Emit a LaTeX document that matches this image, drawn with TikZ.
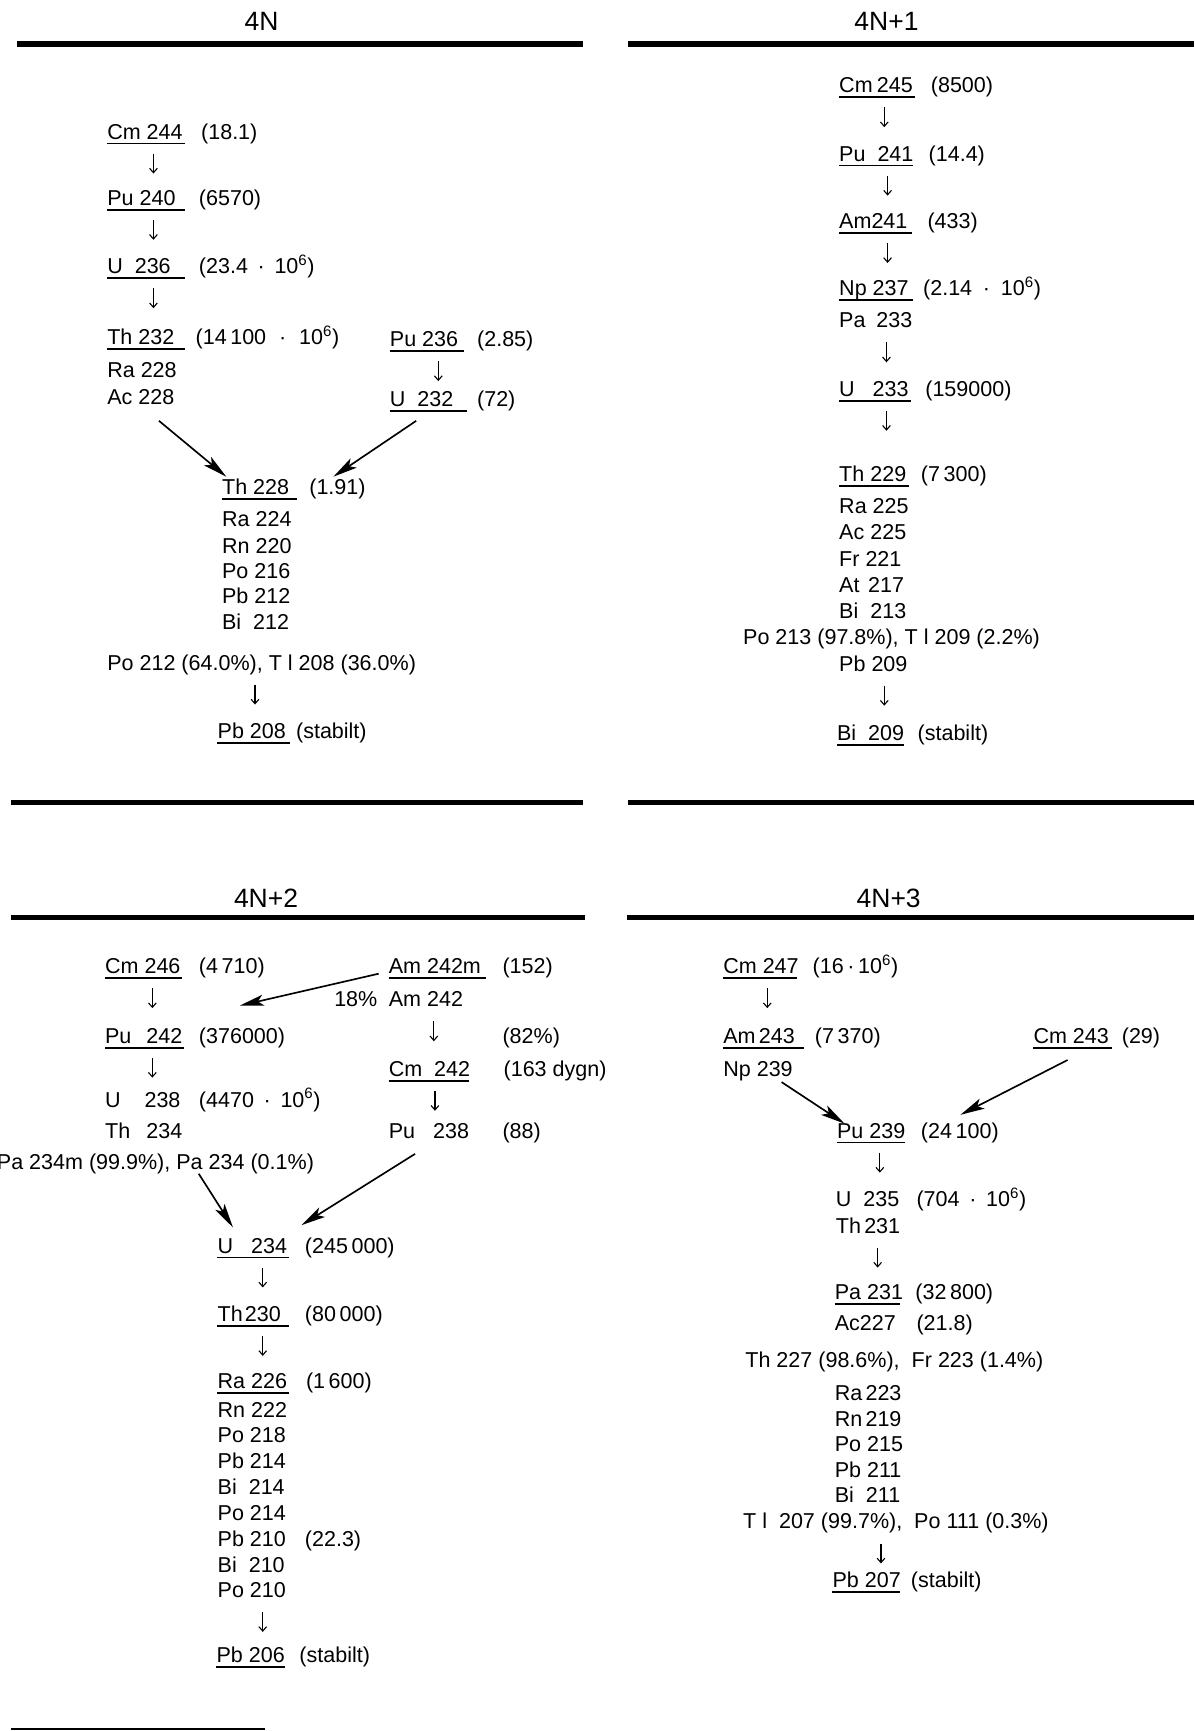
\documentclass[tikz,border=0pt]{standalone}
\usepackage{fontspec}
\setmainfont{Liberation Sans}
\usetikzlibrary{arrows.meta}
\newcommand\fnt{\fontsize{19.5}{23}\selectfont}
\newcommand\tfnt{\fontsize{24}{28}\selectfont}
\newcommand\sx[1]{\textsuperscript{#1}}
\newcommand\tx[4]{\node[txt] (#1) at (#2,{-(#3+7)}) {#4};}
\newcommand\uln[2]{\draw[ulst] ([yshift=-4pt]#1.base west) -- ++(#2,0);}
\newcommand\dar[2]{\draw[darr] ([shift={(#2,-9)}]#1.south west) -- ++(0,-18);}
\begin{document}
\begin{tikzpicture}[x=1pt,y=1pt,
  txt/.style={anchor=base west,inner sep=0pt,font=\fnt,text height=14pt,text depth=4pt},
  ttl/.style={anchor=base,inner sep=0pt,font=\tfnt},
  bar/.style={line width=5pt},
  ulst/.style={line width=1.6pt},
  darr/.style={line width=1pt,-{Straight Barb[length=4pt,width=7pt]}},
  bigarr/.style={line width=1.5pt,-{Stealth[length=22pt,width=10pt,inset=5pt]}}]
\fill[white] (0,0) rectangle (1082,-1568);
\useasboundingbox (0,0) rectangle (1082,-1568);

% ================= 4N =================
\node[ttl] (t4n) at (237,-28) {4N};
\draw[bar] (15,-40) -- (528,-40);
\tx{cm244}{97}{119}{Cm 244}\uln{cm244}{71}\tx{cm244h}{182}{119}{(18.1)}
\tx{pu240}{97}{179}{Pu 240}\uln{pu240}{71}\tx{pu240h}{180}{179}{(6570)}
\tx{u236}{97}{241}{U~~236}\uln{u236}{71}\tx{u236h}{180}{241}{(23.4\hspace{.45em}·\hspace{.45em}10\sx{6})}
\tx{th232}{97}{305}{Th 232}\uln{th232}{71}\tx{th232h}{177}{305}{(14\,100\hspace{.6em}·\hspace{.6em}10\sx{6})}
\tx{ra228}{97}{335}{Ra 228}
\tx{ac228}{97}{359}{Ac 228}
\tx{pu236}{353}{307}{Pu 236}\uln{pu236}{67}\tx{pu236h}{432}{307}{(2.85)}
\tx{u232}{353}{361}{U~~232}\uln{u232}{70}\tx{u232h}{432}{361}{(72)}
\tx{th228}{201}{441}{Th 228}\uln{th228}{68}\tx{th228h}{280}{441}{(1.91)}
\tx{ra224}{201}{470}{Ra 224}
\tx{rn220}{201}{494}{Rn 220}
\tx{po216}{201}{517}{Po 216}
\tx{pb212}{201}{540}{Pb 212}
\tx{bi212}{201}{563}{Bi~~212}
\tx{po212}{97}{600}{Po 212 (64.0\%), T l 208 (36.0\%)}
\tx{pb208}{197}{662}{Pb 208}\uln{pb208}{66}\tx{pb208h}{268}{662}{(stabilt)}
\dar{cm244}{42}\dar{pu240}{42}\dar{u236}{42}\dar{pu236}{44}\dar{po212}{134}
\draw[bigarr] ([shift={(47,-11)}]ac228.south west) -- ([shift={(4,2)}]th228.north west);
\draw[bigarr] ([shift={(24,-9)}]u232.south west) -- ([shift={(101,2)}]th228.north west);
\draw[bar] (10,-727) -- (528,-727);

% ================= 4N+1 =================
\node[ttl] (t4n1) at (803,-28) {4N+1};
\draw[bar] (569,-40) -- (1082,-40);
\tx{cm245}{760}{77}{Cm\hspace{.2em}245}\uln{cm245}{69}\tx{cm245h}{843}{77}{(8500)}
\tx{pu241}{760}{139}{Pu~~241}\uln{pu241}{67}\tx{pu241h}{841}{139}{(14.4)}
\tx{am241}{760}{200}{Am241}\uln{am241}{66}\tx{am241h}{840}{200}{(433)}
\tx{np237}{760}{261}{Np 237}\uln{np237}{67}\tx{np237h}{836}{261}{(2.14\hspace{.5em}·\hspace{.5em}10\sx{6})}
\tx{pa233}{760}{290}{Pa\hspace{.5em}233}
\tx{u233}{760}{352}{U~~~233}\uln{u233}{65}\tx{u233h}{838}{352}{(159000)}
\tx{th229}{760}{429}{Th 229}\uln{th229}{63}\tx{th229h}{834}{429}{(7\,300)}
\tx{ra225}{760}{458}{Ra 225}
\tx{ac225}{760}{482}{Ac 225}
\tx{fr221}{760}{506}{Fr~221}
\tx{at217}{760}{530}{At\hspace{.4em}217}
\tx{bi213}{760}{553}{Bi~~213}
\tx{po213}{673}{577}{Po 213 (97.8\%), T l 209 (2.2\%)}
\tx{pb209}{760}{601}{Pb 209}
\tx{bi209}{758}{664}{Bi~~209}\uln{bi209}{61}\tx{bi209h}{831}{664}{(stabilt)}
\dar{cm245}{41}\dar{pu241}{44}\dar{am241}{44}\dar{pa233}{43}\dar{u233}{43}\dar{pb209}{41}
\draw[bar] (569,-727) -- (1082,-727);

% ================= 4N+2 =================
\node[ttl] (t4n2) at (241,-822) {4N+2};
\draw[bar] (10,-831) -- (530,-831);
\tx{cm246}{95}{875}{Cm 246}\uln{cm246}{70}\tx{cm246h}{180}{875}{(4\,710)}
\tx{am242m}{352}{875}{Am 242m}\uln{am242m}{88}\tx{am242mh}{455}{875}{(152)}
\node[txt,anchor=base east] (p18) at (342,-912) {18\%};
\tx{am242}{352}{905}{Am 242}
\tx{p82}{455}{938}{(82\%)}
\tx{pu242}{95}{938}{Pu\hspace{.7em}242}\uln{pu242}{72}\tx{pu242h}{180}{938}{(376000)}
\tx{cm242}{352}{968}{Cm~~242}\uln{cm242}{73}\tx{cm242h}{456}{968}{(163 dygn)}
\tx{u238}{95}{996}{U~~~~238}\tx{u238h}{180}{996}{(4470\hspace{.45em}·\hspace{.45em}10\sx{6})}
\tx{th234}{95}{1024}{Th\hspace{.75em}234}
\tx{pu238}{352}{1024}{Pu~~~238}\tx{pu238h}{455}{1024}{(88)}
\tx{pa234}{-3}{1052}{Pa 234m (99.9\%), Pa 234 (0.1\%)}
\tx{u234}{197}{1128}{U~~~234}\uln{u234}{65}\tx{u234h}{276}{1128}{(245\,000)}
\tx{th230}{197}{1190}{Th\hspace{.1em}230}\uln{th230}{65}\tx{th230h}{276}{1190}{(80\,000)}
\tx{ra226}{197}{1251}{Ra 226}\uln{ra226}{65}\tx{ra226h}{277}{1251}{(1\,600)}
\tx{rn222}{197}{1277}{Rn 222}
\tx{po218}{197}{1300}{Po 218}
\tx{pb214}{197}{1323}{Pb 214}
\tx{bi214}{197}{1347}{Bi~~214}
\tx{po214}{197}{1370}{Po 214}
\tx{pb210}{197}{1394}{Pb 210}\tx{pb210h}{276}{1394}{(22.3)}
\tx{bi210}{197}{1417}{Bi~~210}
\tx{po210}{197}{1440}{Po 210}
\tx{pb206}{196}{1499}{Pb 206}\uln{pb206}{62}\tx{pb206h}{271}{1499}{(stabilt)}
\coordinate (amtip) at (217,-911);
\draw[bigarr] ([xshift=-9pt]am242m.base west) -- (amtip);
\dar{cm246}{43}\dar{am242}{41}\dar{pu242}{43}\dar{cm242}{42}\dar{u234}{41}\dar{th230}{41}\dar{po210}{41}
\draw[bigarr] ([shift={(183,0)}]pa234.south west) -- ([shift={(14,9)}]u234.north west);
\draw[bigarr] ([shift={(24,-10)}]pu238.south west) -- ([shift={(76,11)}]u234.north west);
\draw[line width=2pt] (10,-1566) -- (240,-1566);

% ================= 4N+3 =================
\node[ttl] (t4n3) at (805,-822) {4N+3};
\draw[bar] (568,-831) -- (1082,-831);
\tx{cm247}{655}{875}{Cm 247}\uln{cm247}{67}\tx{cm247h}{736}{875}{(16\,·\,10\sx{6})}
\tx{am243}{655}{938}{Am\hspace{.15em}243}\uln{am243}{73}\tx{am243h}{738}{938}{(7\,370)}
\tx{cm243}{936}{938}{Cm 243}\uln{cm243}{71}\tx{cm243h}{1016}{938}{(29)}
\tx{np239}{655}{968}{Np 239}
\tx{pu239}{758}{1024}{Pu 239}\uln{pu239}{62}\tx{pu239h}{834}{1024}{(24\,100)}
\tx{u235}{757}{1086}{U~~235}\tx{u235h}{830}{1086}{(704\hspace{.45em}·\hspace{.45em}10\sx{6})}
\tx{th231}{757}{1110}{Th\hspace{.15em}231}
\tx{pa231}{756}{1170}{Pa 231}\uln{pa231}{59}\tx{pa231h}{829}{1170}{(32\,800)}
\tx{ac227}{756}{1198}{Ac227}\tx{ac227h}{830}{1198}{(21.8)}
\tx{th227}{675}{1232}{Th 227 (98.6\%),~ Fr 223 (1.4\%)}
\tx{ra223}{756}{1262}{Ra\hspace{.15em}223}
\tx{rn219}{756}{1285}{Rn\hspace{.15em}219}
\tx{po215}{756}{1308}{Po 215}
\tx{pb211}{756}{1331}{Pb 211}
\tx{bi211}{756}{1354}{Bi~~211}
\tx{tl207}{673}{1378}{T l~~207 (99.7\%),~ Po 111 (0.3\%)}
\tx{pb207}{754}{1431}{Pb 207}\uln{pb207}{61}\tx{pb207h}{825}{1431}{(stabilt)}
\dar{cm247}{40}\dar{pu239}{39}\dar{th231}{38}\dar{tl207}{125}
\draw[bigarr] ([shift={(53,-1)}]np239.south west) -- ([shift={(7,-1)}]pu239.north west);
\draw[bigarr] ([shift={(31,-11)}]cm243.south west) -- ([shift={(112,7)}]pu239.north west);
\end{tikzpicture}
\end{document}
